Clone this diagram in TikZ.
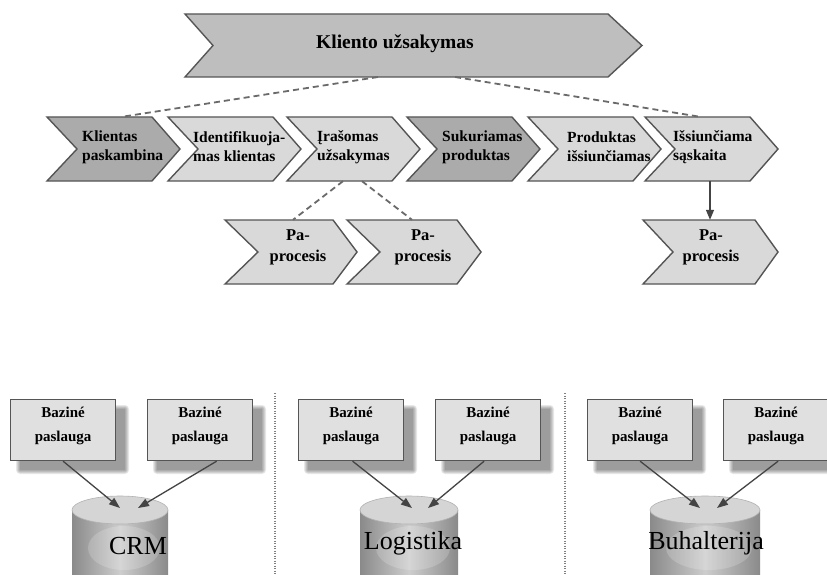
\documentclass[tikz,border=0pt]{standalone}
\usepackage{fontspec}
\setmainfont{LiberationSerif}[Extension=.ttf, UprightFont=*-Regular, BoldFont=*-Bold, ItalicFont=*-Italic, BoldItalicFont=*-BoldItalic]
\usetikzlibrary{arrows.meta,calc}

\definecolor{edge}{HTML}{555555}
\definecolor{chevdark}{HTML}{ABABAB}
\definecolor{chevlight}{HTML}{D9D9D9}
\definecolor{chevtop}{HTML}{BEBEBE}
\definecolor{boxfill}{HTML}{E0E0E0}
\definecolor{linkgray}{HTML}{6A6A6A}
\definecolor{cylside}{HTML}{8A8A8A}
\definecolor{cyllight}{HTML}{CDCDCD}
\definecolor{cyltop}{HTML}{D5D5D5}

\tikzset{
  chevshape/.style={draw=edge, line width=1.4pt, line join=miter},
  body/.style={inner sep=0pt, draw=none},
  toplabel/.style={font=\bfseries\fontsize{19.5}{22}\selectfont, inner sep=0pt},
  chevlabel/.style={font=\bfseries\fontsize{15.5}{19}\selectfont, align=left, inner sep=0pt, anchor=west},
  sublabel/.style={font=\bfseries\fontsize{16.5}{21}\selectfont, align=center, inner sep=0pt},
  dashlink/.style={draw=linkgray, line width=1.8pt, dash pattern=on 6pt off 4pt},
  solidlink/.style={draw=edge!80!black, line width=1.3pt, -{Triangle[length=10pt,width=8pt]}},
  svcbox/.style={draw=edge, line width=1.2pt, fill=boxfill, minimum width=105pt, minimum height=61pt, inner sep=0pt},
  svclabel/.style={font=\bfseries\fontsize{15}{24}\selectfont, align=center, inner sep=0pt},
  uses/.style={draw=edge!80!black, line width=1.3pt, -{Triangle[length=11pt,width=8pt]}},
  dblabel/.style={font=\fontsize{26}{26}\selectfont, inner sep=0pt},
  divider/.style={draw=gray, line width=1.3pt, dash pattern=on 1.2pt off 1.3pt},
}

% chevron: name, fill, left x, top y, body width, height, notch depth, tip depth
\newcommand\chevron[8]{%
  \path[chevshape, fill=#2] (#3,#4) -- ++(#5,0) -- ++(#8,#6/2) -- ++(-#8,#6/2)
    -- ++(-#5,0) -- ++(#7,-#6/2) -- cycle;
  \node[body, minimum width=#5pt, minimum height=#6pt] (#1) at (#3+#5/2,#4+#6/2) {};
}

% service box with a soft shadow: name, left x, label
\newcommand\svc[3]{%
  \foreach \k in {0,1,2,3,4}{
    \fill[black, opacity=0.09, rounded corners=\k pt]
      (#2+10-\k,409-\k) rectangle (#2+115+\k,470+\k);
  }
  \node[svcbox, anchor=north west] (#1) at (#2,399) {};
  \node[svclabel] (#1t) at ([yshift=4pt]#1.center) {#3};
}

% database cylinder cut by the lower border: name, centre x, half width
\newcommand\database[3]{%
  \shade[left color=cylside, right color=cylside, middle color=cyllight]
    (#2-#3,510) rectangle (#2+#3,590);
  \fill[white, opacity=0.18] (#2+4,548) ellipse [x radius=#3pt-12pt, y radius=22pt];
  \fill[cyltop] (#2,510) ellipse [x radius=#3pt, y radius=14pt];
  \draw[gray!60, line width=0.6pt] (#2,510) ellipse [x radius=#3pt, y radius=14pt];
  \coordinate (#1) at (#2,510);
}

\begin{document}
\begin{tikzpicture}[x=1pt, y=-1pt]
\useasboundingbox (0,0) rectangle (827,575);
\clip (0,0) rectangle (827,575);
\fill[white] (0,0) rectangle (827,575);

% ---- links start under the main process ----
\coordinate (topL) at (378,77);
\coordinate (topR) at (455,77);

% ---- main process ----
\chevron{top}{chevtop}{185}{14}{423}{63}{28}{34}
\node[toplabel] (toptext) at (395,44) {Kliento užsakymas};

% ---- process steps ----
\chevron{c1}{chevdark}{47}{117}{105}{64}{30}{28}
\chevron{c2}{chevlight}{168}{117}{105}{64}{30}{28}
\chevron{c3}{chevlight}{287}{117}{105}{64}{30}{28}
\chevron{c4}{chevdark}{407}{117}{105}{64}{30}{28}
\chevron{c5}{chevlight}{528}{117}{105}{64}{30}{28}
\chevron{c6}{chevlight}{645}{117}{105}{64}{30}{28}

\node[chevlabel] (c1t) at (82,147) {Klientas\\paskambina};
\node[chevlabel] (c2t) at (193,147) {Identifikuoja-\\mas klientas};
\node[chevlabel] (c3t) at (317,147) {Įrašomas\\užsakymas};
\node[chevlabel] (c4t) at (442,147) {Sukuriamas\\produktas};
\node[chevlabel] (c5t) at (567,147) {Produktas\\išsiunčiamas};
\node[chevlabel] (c6t) at (673,147) {Išsiunčiama\\sąskaita};

% ---- sub-processes ----
\chevron{sa}{chevlight}{225}{220}{108}{64}{33}{24}
\chevron{sb}{chevlight}{347}{220}{110}{64}{33}{24}
\chevron{sc}{chevlight}{643}{220}{112}{64}{30}{23}
\node[sublabel] (sat) at (298,247) {Pa-\\procesis};
\node[sublabel] (sbt) at (423,247) {Pa-\\procesis};
\node[sublabel] (sct) at (711,247) {Pa-\\procesis};

% ---- links ----
\draw[dashlink] (topL) -- ([xshift=22.5pt]c1.north);
\draw[dashlink] (topR) -- ([xshift=2.5pt]c6.north);
\draw[dashlink] ([xshift=3.5pt]c3.south) -- ([xshift=14pt]sa.north);
\draw[dashlink] ([xshift=22.5pt]c3.south) -- ([xshift=10pt]sb.north);
\draw[solidlink] ([xshift=12.5pt]c6.south) -- ([xshift=11pt]sc.north);

% ---- system dividers ----
\draw[divider] (275,393) -- (275,575);
\draw[divider] (565,393) -- (565,575);

% ---- base services ----
\svc{b1}{10}{Baziné\\paslauga}
\svc{b2}{147}{Baziné\\paslauga}
\svc{b3}{298}{Baziné\\paslauga}
\svc{b4}{435}{Baziné\\paslauga}
\svc{b5}{587}{Baziné\\paslauga}
\svc{b6}{723}{Baziné\\paslauga}

% ---- systems ----
\database{crm}{120}{48}
\database{logi}{409}{49}
\database{buh}{705}{55}
\node[dblabel] (crmt) at (138,546) {CRM};
\node[dblabel] (logit) at (413,543) {Logistika};
\node[dblabel] (buht) at (706,543) {Buhalterija};

\coordinate (crmA) at (120,508);
\coordinate (crmB) at (138,508);
\coordinate (logiA) at (412,508);
\coordinate (logiB) at (428,508);
\coordinate (buhA) at (700,508);
\coordinate (buhB) at (717,508);

\draw[uses] (b1.south) -- (crmA);
\draw[uses] ([xshift=16.5pt]b2.south) -- (crmB);
\draw[uses] ([xshift=1.5pt]b3.south) -- (logiA);
\draw[uses] ([xshift=-4pt]b4.south) -- (logiB);
\draw[uses] (b5.south) -- (buhA);
\draw[uses] ([xshift=2pt]b6.south) -- (buhB);
\end{tikzpicture}
\end{document}
